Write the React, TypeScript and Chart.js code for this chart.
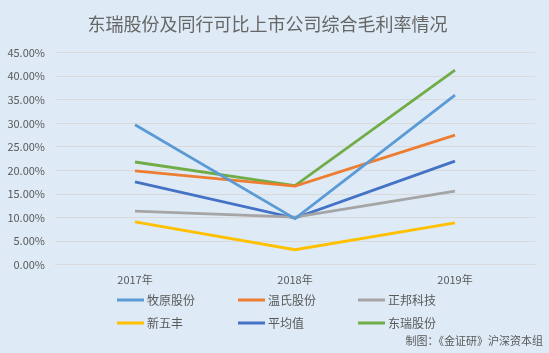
import React, { useEffect, useRef } from "react";
import { Chart, registerables } from "chart.js";

Chart.register(...registerables);

const TITLE = "东瑞股份及同行可比上市公司综合毛利率情况";
const SOURCE = "制图：《金证研》沪深资本组";
const categories = ["2017年", "2018年", "2019年"];
const seriesNames = ["牧原股份", "温氏股份", "正邦科技", "新五丰", "平均值", "东瑞股份"];
const muyuan = [29.7, 9.8, 36.0];
const wenshi = [19.9, 16.7, 27.5];
const zhengbang = [11.4, 10.1, 15.6];
const xinwufeng = [9.1, 3.2, 8.9];
const average = [17.6, 9.9, 22.0];
const dongrui = [21.8, 16.8, 41.3];
const colors = ["#5B9BD5", "#ED7D31", "#A5A5A5", "#FFC000", "#4472C4", "#70AD47"];
const yTicks = [0, 5, 10, 15, 20, 25, 30, 35, 40, 45];

const FONT = '"Noto Sans CJK SC", "Noto Sans", sans-serif';

export default function App() {
  const ref = useRef<HTMLCanvasElement | null>(null);
  useEffect(() => {
    document.body.style.margin = "0";
    const canvas = ref.current;
    if (!canvas) return;
    const values = [muyuan, wenshi, zhengbang, xinwufeng, average, dongrui];
    const bgPlugin = {
      id: "bg",
      beforeDraw(chart: any) {
        const ctx = chart.ctx;
        ctx.save();
        ctx.fillStyle = "#DEEAF6";
        ctx.fillRect(0, 0, chart.width, chart.height);
        ctx.restore();
      },
      afterDraw(chart: any) {
        const ctx = chart.ctx;
        ctx.save();
        ctx.font = `12px ${FONT}`;
        ctx.textBaseline = "middle";
        const colX = [117, 238, 358];
        const rowY = [300, 323];
        chart.data.datasets.forEach((ds: any, i: number) => {
          const x = colX[i % 3];
          const y = rowY[Math.floor(i / 3)];
          ctx.strokeStyle = ds.borderColor;
          ctx.lineWidth = 3;
          ctx.beginPath();
          ctx.moveTo(x, y);
          ctx.lineTo(x + 27, y);
          ctx.stroke();
          ctx.fillStyle = "#595959";
          ctx.textAlign = "left";
          ctx.fillText(ds.label, x + 30, y);
        });
        ctx.font = `11px ${FONT}`;
        ctx.textAlign = "right";
        ctx.fillStyle = "#595959";
        ctx.fillText(SOURCE, 543, 341);
        ctx.restore();
      },
    };
    const chart = new Chart(canvas, {
      type: "line",
      data: {
        labels: categories,
        datasets: seriesNames.map((name, i) => ({
          label: name,
          data: values[i],
          borderColor: colors[i],
          backgroundColor: colors[i],
          borderWidth: 2.8,
          pointRadius: 0,
          tension: 0,
          fill: false,
        })),
      },
      options: {
        animation: false,
        responsive: false,
        layout: { padding: { left: 0, right: 14, top: 11, bottom: 59 } },
        plugins: {
          legend: { display: false },
          tooltip: { enabled: false },
          title: {
            display: true,
            text: TITLE,
            color: "#666666",
            font: { family: FONT, size: 18, weight: "normal" },
            padding: { top: 2, bottom: 18 },
          },
        },
        scales: {
          x: {
            offset: true,
            grid: { display: false, drawTicks: false },
            border: { display: true, color: "#D9D9D9" },
            ticks: { color: "#595959", font: { family: FONT, size: 11 }, padding: 8 },
          },
          y: {
            min: 0,
            max: 45,
            afterFit(scale: any) {
              scale.width = 55;
            },
            afterBuildTicks(scale: any) {
              scale.ticks = yTicks.map((v) => ({ value: v }));
            },
            grid: { color: "#D9D9D9", drawTicks: false, lineWidth: 1 },
            border: { display: false },
            ticks: {
              color: "#595959",
              font: { family: FONT, size: 11 },
              padding: 10,
              callback: (v: any) => Number(v).toFixed(2) + "%",
            },
          },
        },
      },
      plugins: [bgPlugin],
    });
    return () => chart.destroy();
  }, []);
  return <canvas ref={ref} width={549} height={353} style={{ display: "block" }} />;
}
